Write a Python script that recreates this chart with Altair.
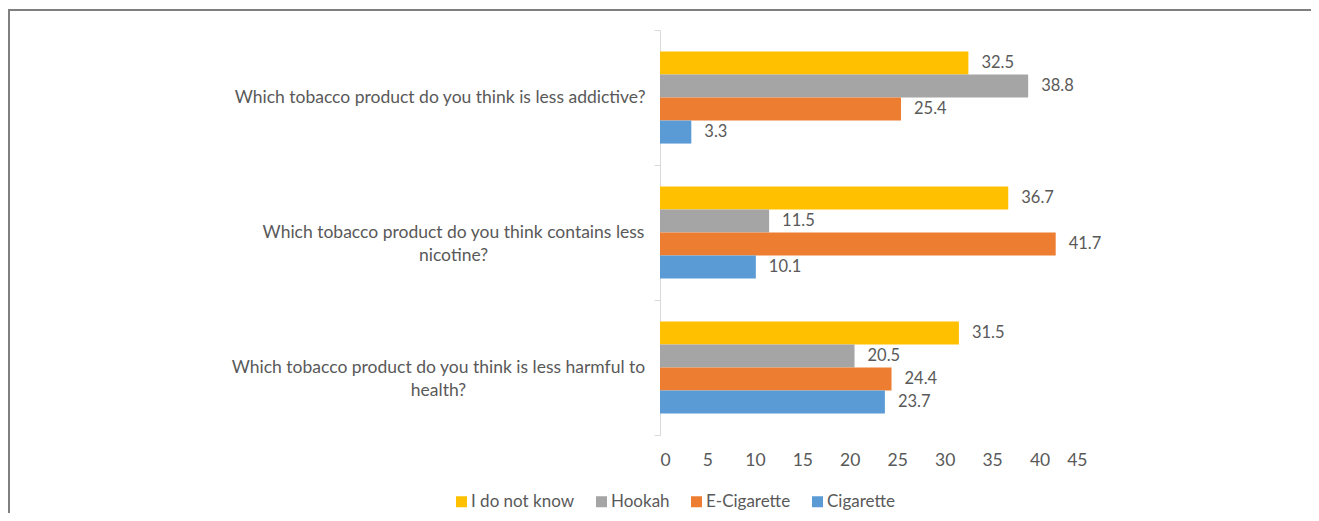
import altair as alt
import pandas as pd

questions = [
    "Which tobacco product do you think is less addictive?",
    "Which tobacco product do you think contains less|nicotine?",
    "Which tobacco product do you think is less harmful to|health?",
]
series = ["I do not know", "Hookah", "E-Cigarette", "Cigarette"]
colors = ["#FFC000", "#A5A5A5", "#ED7D31", "#5B9BD5"]
idk = [32.5, 36.7, 31.5]
hookah = [38.8, 11.5, 20.5]
ecig = [25.4, 41.7, 24.4]
cig = [3.3, 10.1, 23.7]
x_ticks = [0, 5, 10, 15, 20, 25, 30, 35, 40, 45]

rows = []
for s, vals in zip(series, [idk, hookah, ecig, cig]):
    for q, v in zip(questions, vals):
        rows.append({"question": q, "series": s, "value": v})
df = pd.DataFrame(rows)

W, H = 427, 405
PL, PT, PR, PB = 652, 22, 224, 78
FONT = "Lato"
GRAY = "#595959"
LFS = 17.5

q1, q2, q3 = questions

y_enc = alt.Y(
    "question:N",
    sort=questions,
    title=None,
    scale=alt.Scale(paddingInner=0, paddingOuter=0),
    axis=alt.Axis(
        labelExpr="split(datum.label, '|')",
        labelFontSize=LFS,
        labelColor=GRAY,
        labelFont=FONT,
        labelAlign={"condition": {"test": f"datum.value == '{q1}'", "value": "right"}, "value": "center"},
        labelPadding={
            "condition": [
                {"test": f"datum.value == '{q2}'", "value": 201},
                {"test": f"datum.value == '{q3}'", "value": 216},
            ],
            "value": 9,
        },
        labelLineHeight=23,
        labelLimit=0,
        domainColor="#D9D9D9",
        tickColor="#D9D9D9",
        tickSize=6,
        tickBand="extent",
    ),
)
x_enc = alt.X(
    "value:Q",
    title=None,
    scale=alt.Scale(domain=[0, 45], nice=False),
    axis=alt.Axis(
        values=x_ticks,
        domain=False,
        ticks=False,
        grid=False,
        labelFontSize=LFS,
        labelColor=GRAY,
        labelFont=FONT,
        labelPadding=16,
    ),
)
yoff = alt.YOffset(
    "series:N", sort=series, scale=alt.Scale(paddingInner=0, paddingOuter=0.93)
)

bars = alt.Chart(df).mark_bar().encode(
    y=y_enc,
    x=x_enc,
    yOffset=yoff,
    color=alt.Color(
        "series:N",
        sort=series,
        scale=alt.Scale(domain=series, range=colors),
        legend=alt.Legend(
            title=None,
            orient="none",
            direction="horizontal",
            legendX=-207,
            legendY=463,
            symbolType="square",
            symbolSize=121,
            symbolStrokeWidth=0,
            labelFontSize=17,
            labelColor=GRAY,
            labelFont=FONT,
            labelOffset=1,
            columnPadding=18,
        ),
    ),
)

labels = alt.Chart(df).mark_text(
    align="left", baseline="middle", dx=13, fontSize=16.5, color=GRAY, font=FONT
).encode(
    y=alt.Y("question:N", sort=questions),
    x="value:Q",
    yOffset=yoff,
    text=alt.Text("value:Q", format=".1f"),
)

frame_top = alt.Chart(df).mark_rule(color="#7F7F7F", strokeWidth=2).encode(
    x=alt.value(-PL), x2=alt.value(W + PR), y=alt.value(-PT + 2)
)
frame_left = alt.Chart(df).mark_rule(color="#7F7F7F", strokeWidth=2).encode(
    x=alt.value(-PL + 1), y=alt.value(-PT + 2), y2=alt.value(H + PB)
)

chart = (
    alt.layer(bars, labels, frame_top, frame_left)
    .properties(
        width=W,
        height=H,
        autosize=alt.AutoSizeParams(type="none"),
        padding={"left": PL, "top": PT, "right": PR, "bottom": PB},
    )
    .configure_view(stroke=None)
)

chart.save("out.html", embed_options={"renderer": "svg", "actions": False})
